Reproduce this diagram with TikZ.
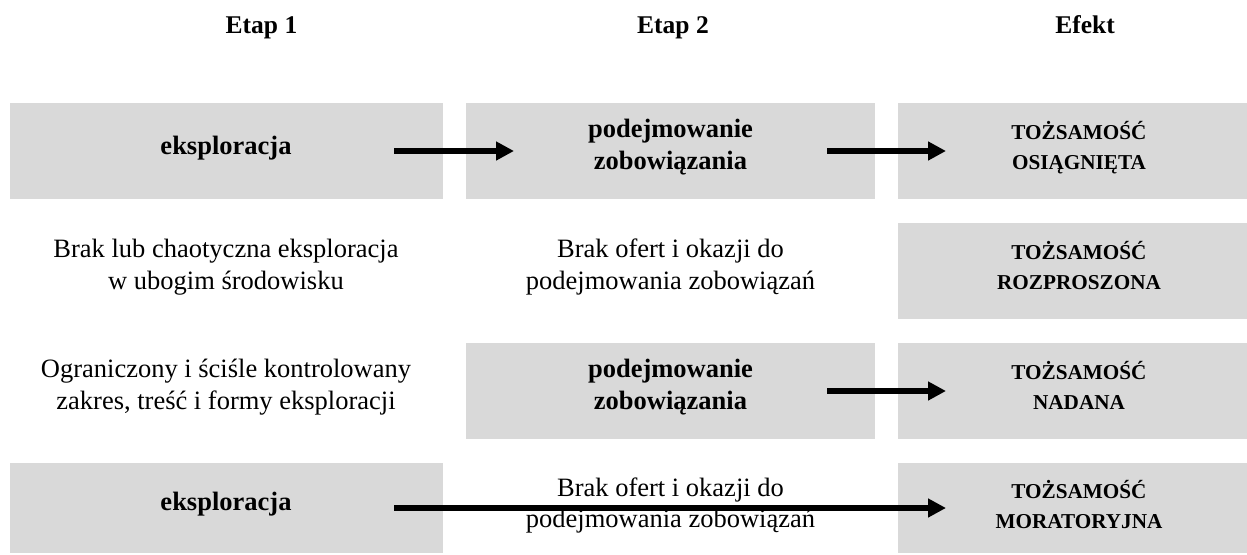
\documentclass[tikz,border=0pt]{standalone}
\usepackage{fontspec}
\setmainfont{Liberation Serif}
\usetikzlibrary{arrows.meta}
\definecolor{boxgray}{HTML}{D9D9D9}
\begin{document}
\begin{tikzpicture}[x=1pt,y=-1pt,
  box/.style={fill=boxgray, draw=none, inner sep=0pt, outer sep=0pt,
              anchor=north west, minimum height=96pt},
  colA/.style={box, minimum width=433pt},
  colB/.style={box, minimum width=409pt},
  colC/.style={box, minimum width=362pt},
  head/.style={font=\fontsize{25.5}{30}\selectfont\bfseries, anchor=base, inner sep=0pt},
  body/.style={font=\fontsize{26.5}{32}\selectfont, anchor=base, inner sep=0pt},
  bodyb/.style={font=\fontsize{26.5}{32}\selectfont\bfseries, anchor=base, inner sep=0pt},
  res/.style={font=\fontsize{21.2}{30}\selectfont\bfseries, anchor=base, inner sep=0pt},
  arr/.style={line width=6pt, -{Triangle[length=18pt,width=18pt]}}
]
\useasboundingbox (0,0) rectangle (1247,554);
\clip (0,0) rectangle (1247,554);

% column headings
\node[head] (h1) at (261.5,33) {Etap 1};
\node[head] (h2) at (673,33) {Etap 2};
\node[head] (h3) at (1085,33) {Efekt};

% grey boxes
\node[colA] (b11) at (10,103) {};
\node[colB] (b12) at (466,103) {};
\node[colC] (b13) at (898,103) {};
\node[colC] (b23) at (898,223) {};
\node[colB] (b32) at (466,343) {};
\node[colC] (b33) at (898,343) {};
\node[colA, minimum height=90pt] (b41) at (10,463) {};
\node[colC, minimum height=90pt] (b43) at (898,463) {};

% arrows
\draw[arr] ([xshift=-49pt]b11.east) -- ([xshift=48pt]b12.west);
\draw[arr] ([xshift=-48pt]b12.east) -- ([xshift=48pt]b13.west);
\draw[arr] ([xshift=-48pt]b32.east) -- ([xshift=48pt]b33.west);
\draw[arr] ([xshift=-49pt]b41.east) -- ([xshift=48pt]b43.west);

% row 1
\node[bodyb] (t11) at (226,154) {eksploracja};
\node[bodyb] (t12a) at (670.5,137) {podejmowanie};
\node[bodyb] (t12b) at (670.5,169) {zobowiązania};
\node[res] (t13a) at (1079,139) {TOŻSAMOŚĆ};
\node[res] (t13b) at (1079,169) {OSIĄGNIĘTA};

% row 2
\node[body] (t21a) at (226,257) {Brak lub chaotyczna eksploracja};
\node[body] (t21b) at (226,289) {w ubogim środowisku};
\node[body] (t22a) at (670.5,257) {Brak ofert i okazji do};
\node[body] (t22b) at (670.5,289) {podejmowania zobowiązań};
\node[res] (t23a) at (1079,259) {TOŻSAMOŚĆ};
\node[res] (t23b) at (1079,289) {ROZPROSZONA};

% row 3
\node[body] (t31a) at (226,377) {Ograniczony i ściśle kontrolowany};
\node[body] (t31b) at (226,409) {zakres, treść i formy eksploracji};
\node[bodyb] (t32a) at (670.5,377) {podejmowanie};
\node[bodyb] (t32b) at (670.5,409) {zobowiązania};
\node[res] (t33a) at (1079,379) {TOŻSAMOŚĆ};
\node[res] (t33b) at (1079,409) {NADANA};

% row 4
\node[bodyb] (t41) at (226,510) {eksploracja};
\node[body] (t42a) at (670.5,496) {Brak ofert i okazji do};
\node[body] (t42b) at (670.5,527) {podejmowania zobowiązań};
\node[res] (t43a) at (1079,498) {TOŻSAMOŚĆ};
\node[res] (t43b) at (1079,528) {MORATORYJNA};
\end{tikzpicture}
\end{document}
